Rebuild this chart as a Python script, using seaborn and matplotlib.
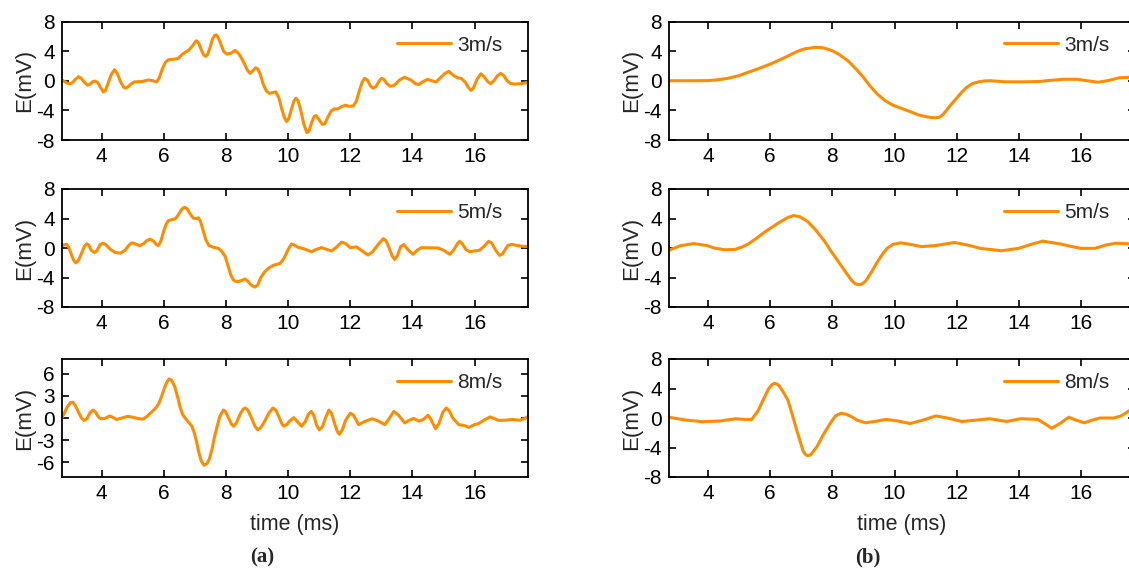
import matplotlib
matplotlib.use("Agg")
import numpy as np
import pandas as pd
import seaborn as sns
import matplotlib.pyplot as plt

# ---------------- data ----------------
a3_t = [2.72, 2.8, 2.9, 2.98, 3.06, 3.15, 3.25, 3.33, 3.44, 3.54, 3.62, 3.72, 3.79, 3.87, 3.96, 4.05, 4.12, 4.2,
        4.3, 4.41, 4.5, 4.6, 4.7, 4.77, 4.85, 4.95, 5.05, 5.3, 5.5, 5.65, 5.77, 5.85, 5.95, 6.05, 6.15, 6.3,
        6.45, 6.6, 6.79, 6.92, 7.0, 7.05, 7.12, 7.2, 7.28, 7.34, 7.4, 7.48, 7.56, 7.63, 7.68, 7.74, 7.82,
        7.92, 8.02, 8.15, 8.29, 8.38, 8.48, 8.58, 8.68, 8.77, 8.85, 8.95, 9.02, 9.1, 9.2, 9.3, 9.4, 9.5,
        9.6, 9.7, 9.8, 9.88, 9.95, 10.02, 10.1, 10.18, 10.25, 10.32, 10.4, 10.5, 10.6, 10.67, 10.76, 10.84,
        10.9, 11.0, 11.1, 11.18, 11.28, 11.38, 11.48, 11.6, 11.72, 11.85, 11.95, 12.1, 12.2, 12.3, 12.38,
        12.46, 12.55, 12.65, 12.73, 12.82, 12.92, 13.0, 13.08, 13.18, 13.29, 13.42, 13.58, 13.74, 13.95,
        14.1, 14.2, 14.35, 14.49, 14.62, 14.76, 14.9, 15.05, 15.17, 15.3, 15.45, 15.58, 15.7, 15.8, 15.88,
        15.96, 16.08, 16.2, 16.3, 16.42, 16.52, 16.62, 16.74, 16.84, 16.94, 17.05, 17.15, 17.3, 17.5, 17.72]
a3_e = [0.1, -0.1, -0.35, -0.4, -0.25, 0.2, 0.55, 0.35, -0.2, -0.6, -0.45, -0.1, -0.05, -0.25, -0.9, -1.5, -1.3, -0.4,
        0.8, 1.5, 1.0, -0.1, -0.85, -1.0, -0.8, -0.4, -0.15, -0.1, 0.1, 0.0, -0.15, 0.4, 1.6, 2.5, 2.85, 2.9,
        3.0, 3.6, 4.1, 4.7, 5.2, 5.4, 5.1, 4.2, 3.5, 3.3, 3.5, 4.4, 5.6, 6.1, 6.2, 5.9, 5.1,
        4.0, 3.6, 3.7, 4.1, 3.8, 3.2, 2.4, 1.5, 1.0, 1.3, 1.75, 1.6, 0.9, -0.5, -1.4, -1.7, -1.6,
        -1.5, -2.3, -3.9, -5.0, -5.5, -5.1, -3.9, -2.8, -2.35, -2.7, -3.9, -5.8, -7.0, -6.8, -5.6, -4.8,
        -4.7, -5.3, -5.9, -5.8, -4.9, -4.1, -3.8, -3.8, -3.5, -3.3, -3.45, -3.4, -2.7, -1.2, -0.2,
        0.33, 0.1, -0.7, -1.0, -0.8, -0.1, 0.33, 0.2, -0.4, -0.75, -0.6, 0.1, 0.47, 0.1,
        -0.4, -0.5, -0.1, 0.2, 0.0, -0.15, 0.4, 1.0, 1.27, 0.8, 0.4, 0.3, -0.2, -0.9, -1.3,
        -1.0, 0.2, 0.94, 0.6, -0.1, -0.4, 0.0, 0.7, 1.0, 0.7, 0.0, -0.35, -0.45, -0.4, -0.2]

a5_t = [2.72, 2.8, 2.87, 2.94, 3.03, 3.1, 3.16, 3.23, 3.3, 3.38, 3.45, 3.52, 3.58, 3.66, 3.76, 3.84, 3.94, 4.03,
        4.12, 4.27, 4.43, 4.6, 4.75, 4.88, 4.96, 5.05, 5.23, 5.35, 5.45, 5.55, 5.65, 5.75, 5.82, 5.9, 6.0,
        6.08, 6.14, 6.25, 6.36, 6.45, 6.55, 6.62, 6.68, 6.75, 6.85, 6.95, 7.05, 7.11, 7.18, 7.27, 7.35,
        7.45, 7.6, 7.75, 7.85, 7.97, 8.05, 8.15, 8.23, 8.3, 8.39, 8.5, 8.61, 8.7, 8.8, 8.93, 9.02, 9.12,
        9.25, 9.38, 9.52, 9.65, 9.73, 9.82, 9.9, 10.0, 10.11, 10.2, 10.32, 10.5, 10.75, 10.9, 11.07,
        11.25, 11.4, 11.55, 11.72, 11.85, 12.0, 12.2, 12.35, 12.57, 12.72, 12.9, 13.06, 13.15, 13.25,
        13.35, 13.43, 13.52, 13.62, 13.73, 13.85, 14.02, 14.15, 14.29, 14.83, 15.0, 15.2, 15.32, 15.45,
        15.52, 15.6, 15.72, 15.84, 16.0, 16.16, 16.3, 16.45, 16.55, 16.68, 16.8, 16.9, 17.0, 17.07,
        17.2, 17.35, 17.5, 17.72]
a5_e = [0.3, 0.45, 0.5, 0.1, -1.0, -1.7, -2.0, -1.8, -1.2, -0.4, 0.3, 0.56, 0.4, -0.3, -0.6, -0.4, 0.4, 0.66,
        0.5, -0.15, -0.6, -0.7, -0.3, 0.4, 0.7, 0.6, 0.33, 0.6, 1.0, 1.2, 1.0, 0.5, 0.33, 0.9, 2.4,
        3.3, 3.7, 3.85, 3.95, 4.4, 5.1, 5.45, 5.5, 5.3, 4.6, 4.05, 4.0, 4.1, 3.6, 2.3, 1.1,
        0.33, 0.1, -0.05, -0.4, -1.1, -2.2, -3.6, -4.3, -4.5, -4.55, -4.4, -4.2, -4.5, -5.0, -5.3, -5.0, -4.0,
        -3.2, -2.7, -2.35, -2.2, -2.1, -1.7, -1.1, -0.2, 0.56, 0.4, 0.1, -0.1, -0.5, -0.2, 0.05,
        -0.2, -0.4, 0.1, 0.8, 0.6, 0.05, 0.15, -0.3, -0.95, -0.5, 0.5, 1.27, 1.0, 0.0,
        -1.1, -1.55, -1.0, 0.2, 0.47, -0.2, -0.85, -0.3, 0.05, 0.0, -0.3, -0.85, -0.3, 0.6,
        0.9, 0.6, -0.2, -0.5, -0.4, -0.3, 0.2, 0.9, 0.7, -0.3, -1.0, -0.8, -0.1, 0.33,
        0.5, 0.35, 0.25, 0.2]

a8_t = [2.72, 2.8, 2.9, 3.0, 3.07, 3.15, 3.25, 3.35, 3.43, 3.52, 3.62, 3.72, 3.8, 3.9, 3.97, 4.1, 4.26, 4.4,
        4.48, 4.65, 4.84, 5.0, 5.2, 5.33, 5.45, 5.55, 5.65, 5.75, 5.84, 5.93, 6.02, 6.1, 6.17, 6.25, 6.35,
        6.45, 6.52, 6.6, 6.7, 6.8, 6.9, 6.97, 7.05, 7.12, 7.2, 7.29, 7.38, 7.46, 7.55, 7.63, 7.7, 7.8,
        7.91, 7.98, 8.08, 8.17, 8.24, 8.33, 8.45, 8.55, 8.62, 8.7, 8.82, 8.93, 9.02, 9.12, 9.25, 9.38,
        9.51, 9.6, 9.7, 9.8, 9.86, 9.95, 10.05, 10.18, 10.3, 10.43, 10.55, 10.65, 10.74, 10.82, 10.92,
        11.0, 11.1, 11.2, 11.31, 11.4, 11.5, 11.58, 11.65, 11.74, 11.85, 12.0, 12.1, 12.27, 12.45, 12.7,
        12.9, 13.11, 13.25, 13.4, 13.55, 13.75, 13.9, 14.04, 14.2, 14.35, 14.5, 14.6, 14.74, 14.85,
        14.98, 15.09, 15.18, 15.3, 15.49, 15.65, 15.81, 16.0, 16.13, 16.3, 16.5, 16.65, 16.77, 17.0,
        17.2, 17.45, 17.6, 17.72]
a8_e = [0.05, 0.7, 1.6, 2.1, 2.15, 1.7, 0.8, 0.0, -0.33, -0.1, 0.7, 1.08, 0.8, 0.1, -0.1, -0.05, 0.28, 0.0,
        -0.2, 0.0, 0.23, 0.1, -0.1, -0.15, 0.2, 0.6, 1.0, 1.4, 2.0, 3.0, 4.1, 4.9, 5.3, 5.1, 4.27,
        2.7, 1.5, 0.5, -0.1, -0.6, -1.1, -1.9, -3.2, -4.6, -5.8, -6.4, -6.2, -5.6, -4.2, -2.5, -1.36, 0.2,
        1.08, 0.9, 0.0, -0.8, -1.1, -0.7, 0.5, 1.2, 1.36, 1.1, 0.0, -1.1, -1.6, -1.3, -0.4, 0.7,
        1.36, 1.1, 0.2, -0.8, -1.1, -0.9, -0.4, 0.05, -0.5, -1.1, -0.5, 0.5, 0.9, 0.4, -1.0,
        -1.6, -1.2, 0.0, 1.08, 0.6, -0.8, -1.8, -2.2, -1.6, -0.3, 0.66, 0.4, -0.9, -0.5, -0.1,
        -0.4, -0.9, -0.1, 0.9, 0.4, -0.66, -0.3, -0.05, -0.42, -0.2, 0.37, -0.2, -1.45, -0.8,
        0.8, 1.36, 1.0, 0.0, -0.9, -1.0, -1.27, -0.9, -0.75, -0.3, 0.15, -0.1, -0.33, -0.3,
        -0.2, -0.3, -0.1, 0.2]

b3_t = [2.74, 3.5, 4.0, 4.3, 4.64, 5.0, 5.19, 5.6, 6.03, 6.45, 6.86, 7.1, 7.42, 7.6, 7.75, 8.0, 8.2, 8.5,
        8.76, 9.0, 9.2, 9.45, 9.7, 9.95, 10.2, 10.5, 10.76, 11.05, 11.2, 11.32, 11.45, 11.55, 11.65, 11.82,
        11.99, 12.15, 12.32, 12.5, 12.71, 12.9, 13.1, 13.55, 14.1, 14.66, 15.0, 15.44, 15.89, 16.2, 16.56,
        16.9, 17.23, 17.6, 17.76]
b3_e = [0.0, 0.0, 0.02, 0.12, 0.33, 0.7, 1.0, 1.6, 2.3, 3.1, 3.95, 4.3, 4.5, 4.5, 4.4, 4.05, 3.6, 2.7,
        1.6, 0.45, -0.66, -1.8, -2.7, -3.3, -3.7, -4.15, -4.6, -4.88, -4.97, -5.0, -4.9, -4.6, -4.1, -3.2,
        -2.4, -1.6, -0.9, -0.4, -0.14, -0.02, 0.0, -0.14, -0.15, -0.1, 0.05, 0.2, 0.2, 0.0, -0.2,
        0.05, 0.4, 0.47, 0.45]

b5_t = [2.74, 3.1, 3.52, 3.97, 4.2, 4.52, 4.86, 5.1, 5.3, 5.55, 5.8, 6.03, 6.3, 6.55, 6.75, 6.95, 7.2, 7.45,
        7.75, 7.95, 8.2, 8.45, 8.6, 8.72, 8.81, 8.9, 9.0, 9.09, 9.25, 9.43, 9.6, 9.76, 9.95, 10.2, 10.5,
        10.87, 11.32, 11.93, 12.35, 12.77, 13.44, 13.99, 14.4, 14.77, 15.33, 15.7, 16.0, 16.45, 16.8, 17.11,
        17.6, 17.76]
b5_e = [-0.3, 0.3, 0.6, 0.33, 0.0, -0.23, -0.2, 0.15, 0.56, 1.3, 2.1, 2.75, 3.5, 4.1, 4.4, 4.25, 3.6, 2.5,
        0.9, -0.4, -1.9, -3.4, -4.3, -4.8, -4.95, -4.95, -4.75, -4.35, -3.3, -2.0, -0.9, -0.05, 0.5, 0.7, 0.5,
        0.19, 0.33, 0.75, 0.4, -0.05, -0.37, -0.05, 0.5, 0.93, 0.56, 0.2, -0.05, -0.05, 0.4, 0.65,
        0.56, 0.5]

b8_t = [2.74, 3.28, 3.83, 4.39, 4.89, 5.2, 5.4, 5.61, 5.8, 5.95, 6.05, 6.13, 6.22, 6.3, 6.45, 6.56, 6.7, 6.83,
        6.95, 7.05, 7.12, 7.2, 7.3, 7.5, 7.7, 7.94, 8.1, 8.28, 8.45, 8.61, 8.8, 9.06, 9.4, 9.72, 10.1,
        10.5, 10.9, 11.33, 11.7, 12.17, 12.6, 13.06, 13.61, 14.06, 14.61, 14.85, 15.06, 15.3, 15.61, 15.85,
        16.11, 16.35, 16.61, 17.06, 17.3, 17.56, 17.76]
b8_e = [0.1, -0.28, -0.5, -0.4, -0.1, -0.2, -0.2, 1.0, 2.7, 4.0, 4.5, 4.7, 4.6, 4.3, 3.3, 2.5, 0.6, -1.35,
        -3.0, -4.4, -4.9, -5.1, -5.0, -3.9, -2.3, -0.65, 0.3, 0.65, 0.5, 0.19, -0.3, -0.65, -0.45, -0.19, -0.4,
        -0.75, -0.3, 0.28, 0.0, -0.47, -0.3, -0.1, -0.47, -0.1, -0.19, -0.8, -1.4, -0.8, 0.1, -0.3,
        -0.65, -0.3, 0.0, 0.0, 0.3, 1.0, 1.3]

labels = ["3m/s", "5m/s", "8m/s"]
xticks = [4, 6, 8, 10, 12, 14, 16]
yticks_main = [-8, -4, 0, 4, 8]
yticks_a8 = [-6, -3, 0, 3, 6]

# ---------------- styling ----------------
sns.set_style("ticks")
plt.rcParams['font.family'] = ['Liberation Sans', 'DejaVu Sans']
plt.rcParams['axes.unicode_minus'] = False
ORANGE = "#FF8C00"

W, H = 1129, 569
fig = plt.figure(figsize=(W / 100, H / 100), dpi=100)

rows_px = [(21.5, 140), (189, 307), (359, 477)]
cols = [(62, 466, 2.72, 17.72), (669, 466, 2.74, 17.74)]

series = [
    [(a3_t, a3_e), (a5_t, a5_e), (a8_t, a8_e)],
    [(b3_t, b3_e), (b5_t, b5_e), (b8_t, b8_e)],
]

for ci, (x0, w, xl0, xl1) in enumerate(cols):
    for ri, (top, bot) in enumerate(rows_px):
        ax = fig.add_axes([x0 / W, 1 - bot / H, w / W, (bot - top) / H])
        t, e = series[ci][ri]
        df = pd.DataFrame({"time": t, "E": e})
        sns.lineplot(data=df, x="time", y="E", ax=ax, color=ORANGE, lw=2.2,
                     label=labels[ri], sort=False)
        for ln in ax.lines:
            ln.set_solid_joinstyle("round")
            ln.set_solid_capstyle("round")
        ax.set_xlim(xl0, xl1)
        ax.set_ylim(-8, 8)
        ax.set_xticks(xticks)
        if ci == 0 and ri == 2:
            ax.set_yticks(yticks_a8)
        else:
            ax.set_yticks(yticks_main)
        ax.tick_params(direction="in", top=True, right=True, length=5, width=1.2,
                       labelsize=15, pad=5, colors="black")
        for s in ax.spines.values():
            s.set_linewidth(1.3)
            s.set_color("black")
        ax.set_ylabel("E(mV)", fontsize=16, labelpad=1)
        if ri == 2:
            ax.set_xlabel("time (ms)", fontsize=15.5, labelpad=8)
        else:
            ax.set_xlabel("")
        ax.legend(loc="center right", bbox_to_anchor=(0.945, 0.8), frameon=False,
                  fontsize=15, handlelength=2.6, handletextpad=0.3, borderpad=0,
                  borderaxespad=0)

fig.text(262 / W, 1 - 557 / H, "(a)", ha="center", va="center", fontsize=15,
         fontweight="bold", family=["Liberation Serif", "DejaVu Serif"])
fig.text(868 / W, 1 - 557 / H, "(b)", ha="center", va="center", fontsize=15,
         fontweight="bold", family=["Liberation Serif", "DejaVu Serif"])

fig.savefig("out.png", dpi=100)
